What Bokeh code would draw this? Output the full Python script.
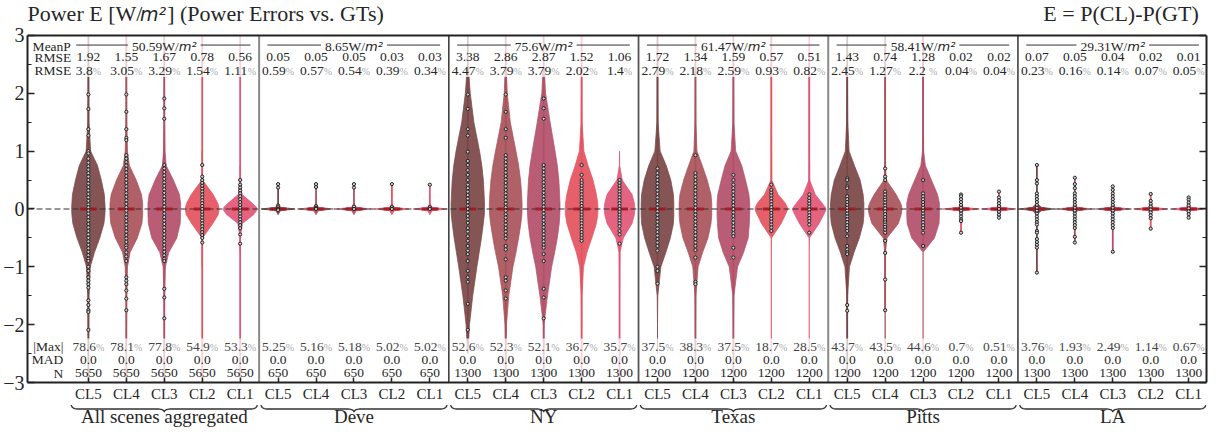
import numpy as np
from bokeh.plotting import figure
from bokeh.layouts import column
from bokeh.models import Range1d, FixedTicker, LinearAxis
from bokeh.core.properties import value
from bokeh.embed import file_html
from bokeh.resources import INLINE

# ---------------- data ----------------
groups = ["All scenes aggregated", "Deve", "NY", "Texas", "Pitts", "LA"]
cl_levels = ["CL5", "CL4", "CL3", "CL2", "CL1"]
mean_power = ["50.59", "8.65", "75.6", "61.47", "58.41", "29.31"]
rmse = ["1.92", "1.55", "1.67", "0.78", "0.56",
        "0.05", "0.05", "0.05", "0.03", "0.03",
        "3.38", "2.86", "2.87", "1.52", "1.06",
        "1.72", "1.34", "1.59", "0.57", "0.51",
        "1.43", "0.74", "1.28", "0.02", "0.02",
        "0.07", "0.05", "0.04", "0.02", "0.01"]
rmse_pct = ["3.8", "3.05", "3.29", "1.54", "1.11",
            "0.59", "0.57", "0.54", "0.39", "0.34",
            "4.47", "3.79", "3.79", "2.02", "1.4",
            "2.79", "2.18", "2.59", "0.93", "0.82",
            "2.45", "1.27", "2.2 ", "0.04", "0.04",
            "0.23", "0.16", "0.14", "0.07", "0.05"]
max_pct = ["78.6", "78.1", "77.8", "54.9", "53.3",
           "5.25", "5.16", "5.18", "5.02", "5.02",
           "52.6", "52.3", "52.1", "36.7", "35.7",
           "37.5", "38.3", "37.5", "18.7", "28.5",
           "43.7", "43.5", "44.6", "0.7", "0.51",
           "3.76", "1.93", "2.49", "1.14", "0.67"]
mad = ["0.0"] * 30
n_per_group = ["5650", "650", "1300", "1200", "1200", "1300"]

# violin half-width profiles (in category widths) at these error levels
profile_levels = [-2.5, -2.0, -1.5, -1.0, -0.75, -0.5, -0.25, -0.1, -0.03, 0.0,
                  0.03, 0.1, 0.25, 0.5, 0.75, 1.0, 1.5, 2.0, 2.5]
flat45 = [0, 0, 0, 0, 0, 0, 0, 0, 0.06, 0.45, 0.06, 0, 0, 0, 0, 0, 0, 0, 0]
profiles = [
    # All scenes aggregated
    [0, 0.01, 0.015, 0.05, 0.16, 0.30, 0.41, 0.435, 0.44, 0.44, 0.44, 0.435, 0.42, 0.34, 0.24, 0.06, 0.015, 0.01, 0.005],
    [0, 0.005, 0.01, 0.03, 0.10, 0.29, 0.41, 0.43, 0.43, 0.43, 0.43, 0.43, 0.40, 0.26, 0.08, 0.03, 0.01, 0.008, 0.005],
    [0, 0.005, 0.01, 0.03, 0.12, 0.33, 0.42, 0.43, 0.43, 0.43, 0.43, 0.43, 0.40, 0.24, 0.05, 0.02, 0.01, 0.008, 0.005],
    [0, 0, 0, 0, 0.005, 0.01, 0.28, 0.42, 0.44, 0.44, 0.44, 0.41, 0.29, 0.01, 0.005, 0, 0, 0, 0],
    [0, 0, 0, 0, 0, 0.005, 0.06, 0.35, 0.43, 0.44, 0.43, 0.32, 0.05, 0.005, 0, 0, 0, 0, 0],
    # Deve
    flat45, flat45, flat45, flat45, flat45,
    # NY
    [0.005, 0.045, 0.13, 0.24, 0.30, 0.36, 0.41, 0.435, 0.44, 0.44, 0.44, 0.44, 0.43, 0.41, 0.37, 0.31, 0.16, 0.065, 0.01],
    [0.003, 0.02, 0.08, 0.19, 0.27, 0.34, 0.40, 0.425, 0.43, 0.43, 0.43, 0.43, 0.42, 0.39, 0.34, 0.27, 0.12, 0.04, 0.008],
    [0, 0.01, 0.10, 0.21, 0.29, 0.36, 0.41, 0.425, 0.43, 0.43, 0.43, 0.43, 0.42, 0.40, 0.36, 0.30, 0.17, 0.05, 0.01],
    [0, 0.005, 0.01, 0.05, 0.14, 0.27, 0.39, 0.425, 0.43, 0.43, 0.43, 0.425, 0.39, 0.30, 0.17, 0.06, 0.012, 0.008, 0.005],
    [0, 0, 0, 0.005, 0.01, 0.10, 0.33, 0.39, 0.40, 0.40, 0.40, 0.39, 0.33, 0.07, 0.005, 0, 0, 0, 0],
    # Texas
    [0, 0, 0.008, 0.09, 0.22, 0.34, 0.42, 0.43, 0.43, 0.43, 0.43, 0.43, 0.42, 0.35, 0.23, 0.07, 0.015, 0.01, 0.008],
    [0.003, 0.005, 0.012, 0.07, 0.19, 0.33, 0.41, 0.43, 0.43, 0.43, 0.43, 0.43, 0.41, 0.31, 0.18, 0.04, 0.012, 0.008, 0.005],
    [0.003, 0.005, 0.015, 0.11, 0.27, 0.39, 0.42, 0.43, 0.43, 0.43, 0.43, 0.43, 0.41, 0.32, 0.22, 0.06, 0.015, 0.01, 0.007],
    [0, 0, 0, 0, 0, 0.005, 0.26, 0.37, 0.42, 0.43, 0.42, 0.37, 0.18, 0.01, 0.008, 0.006, 0.005, 0.005, 0.005],
    [0, 0, 0, 0, 0, 0.005, 0.26, 0.38, 0.43, 0.44, 0.42, 0.34, 0.16, 0.01, 0.008, 0.006, 0.005, 0.005, 0.005],
    # Pitts
    [0.005, 0.006, 0.01, 0.06, 0.18, 0.32, 0.42, 0.44, 0.44, 0.44, 0.44, 0.44, 0.42, 0.34, 0.19, 0.05, 0.015, 0.01, 0.008],
    [0.005, 0.005, 0.005, 0.005, 0.008, 0.05, 0.35, 0.42, 0.44, 0.44, 0.44, 0.41, 0.29, 0.03, 0.008, 0.006, 0.005, 0.005, 0.005],
    [0, 0, 0, 0, 0, 0.30, 0.42, 0.43, 0.43, 0.43, 0.43, 0.43, 0.38, 0.22, 0.06, 0.015, 0.01, 0.008, 0.006],
    [0, 0, 0, 0, 0, 0, 0, 0, 0.06, 0.48, 0.06, 0, 0, 0, 0, 0, 0, 0, 0],
    flat45,
    # LA
    [0, 0, 0, 0, 0, 0, 0, 0, 0.12, 0.46, 0.12, 0, 0, 0, 0, 0, 0, 0, 0],
    flat45, flat45, flat45, flat45,
]

# whisker extents (min, max error); values beyond +-3 run off the chart
whisker_lo = [-3.5, -3.5, -3.5, -3.5, -3.5,
              0.0, 0.0, 0.0, 0.0, 0.0,
              -2.3, -3.5, -3.5, -3.5, -3.5,
              -1.29, -3.5, -3.5, -0.4, -0.42,
              -3.5, -1.77, -0.66, -0.42, -0.15,
              -1.1, -0.58, -0.74, -0.34, -0.15]
whisker_hi = [3.5, 3.5, 3.5, 3.5, 3.5,
              0.43, 0.43, 0.43, 0.43, 0.42,
              3.5, 3.5, 3.5, 3.5, 0.53,
              3.5, 3.5, 3.5, 3.5, 3.5,
              3.5, 3.5, 3.5, 0.25, 0.3,
              0.76, 0.54, 0.39, 0.26, 0.2]

# individual error samples drawn as points
points = [
    # All scenes aggregated
    [1.98, 1.73, 1.38, 1.27, 1.0, 0.96, 0.87, 0.8, 0.74, 0.68, 0.62, 0.56, 0.5, 0.44, 0.38, 0.32, 0.26, 0.2, 0.14,
     0.08, 0.03, -0.03, -0.08, -0.14, -0.2, -0.26, -0.32, -0.38, -0.44, -0.5, -0.56, -0.62, -0.68, -0.74, -0.8,
     -0.86, -0.9, -1.0, -1.07, -1.18, -1.24, -1.3, -1.36, -1.58, -1.66, -1.75, -1.78, -2.09],
    [1.98, 1.68, 1.38, 1.23, 1.19, 0.93, 0.87, 0.81, 0.75, 0.69, 0.63, 0.57, 0.51, 0.45, 0.39, 0.33, 0.27, 0.21,
     0.15, 0.09, 0.03, -0.03, -0.09, -0.15, -0.21, -0.27, -0.33, -0.39, -0.45, -0.51, -0.57, -0.63, -0.67, -0.75,
     -0.82, -0.9, -1.18, -1.24, -1.3, -1.41, -1.55, -1.75],
    [1.91, 1.74, 1.56, 0.76, 0.7, 0.64, 0.58, 0.52, 0.46, 0.4, 0.34, 0.28, 0.22, 0.16, 0.1, 0.04, -0.02, -0.08,
     -0.14, -0.2, -0.26, -0.32, -0.38, -0.44, -0.5, -0.56, -0.62, -0.68, -0.74, -0.8, -0.86, -0.9, -1.38, -1.53,
     -1.89],
    [0.76, 0.56, 0.5, 0.45, 0.4, 0.35, 0.3, 0.25, 0.2, 0.15, 0.1, 0.05, 0.0, -0.05, -0.1, -0.15, -0.2, -0.25, -0.3,
     -0.35, -0.4, -0.45, -0.5, -0.58],
    [0.5, 0.42, 0.37, 0.32, 0.27, 0.22, 0.17, 0.12, 0.07, 0.02, -0.03, -0.08, -0.13, -0.18, -0.23, -0.28, -0.33,
     -0.44, -0.6],
    # Deve
    [0.43, 0.37, 0.06, 0.03, 0.0, -0.02],
    [0.43, 0.38, 0.05, 0.02, 0.0],
    [0.43, 0.37, 0.04, 0.0],
    [0.43, 0.03, 0.0],
    [0.42, 0.03, 0.0],
    # NY
    [1.98, 1.73, 1.38, 1.27, 0.99, 0.83, 0.76, 0.67, 0.59, 0.5, 0.42, 0.36, 0.3, 0.24, 0.18, 0.12, 0.06, 0.0,
     -0.06, -0.12, -0.18, -0.24, -0.33, -0.39, -0.47, -0.55, -0.64, -0.72, -0.78, -0.9, -1.07, -1.18, -1.26,
     -1.64, -2.09],
    [1.98, 1.68, 1.38, 1.23, 0.93, 0.87, 0.81, 0.75, 0.69, 0.63, 0.57, 0.51, 0.45, 0.39, 0.33, 0.27, 0.21, 0.15,
     0.09, 0.03, -0.03, -0.09, -0.15, -0.21, -0.27, -0.33, -0.39, -0.45, -0.51, -0.64, -0.7, -0.87, -1.18, -1.24,
     -1.41, -1.55],
    [1.91, 1.74, 1.56, 0.76, 0.7, 0.64, 0.58, 0.52, 0.46, 0.4, 0.34, 0.28, 0.22, 0.16, 0.1, 0.04, -0.02, -0.08,
     -0.14, -0.2, -0.26, -0.32, -0.38, -0.44, -0.5, -0.56, -0.62, -0.67, -0.78, -0.9, -1.38, -1.53, -1.89],
    [0.76, 0.59, 0.5, 0.45, 0.4, 0.35, 0.3, 0.25, 0.2, 0.15, 0.1, 0.05, 0.0, -0.05, -0.1, -0.15, -0.2, -0.25,
     -0.3, -0.35, -0.4, -0.45, -0.5, -0.55],
    [0.5, 0.45, 0.4, 0.35, 0.3, 0.25, 0.2, 0.15, 0.1, 0.05, 0.0, -0.05, -0.1, -0.15, -0.2, -0.25, -0.3, -0.38,
     -0.44, -0.6],
    # Texas
    [0.7, 0.62, 0.56, 0.5, 0.44, 0.38, 0.32, 0.26, 0.2, 0.14, 0.08, 0.02, -0.04, -0.1, -0.16, -0.22, -0.28, -0.34,
     -0.4, -0.46, -0.52, -0.58, -0.64, -0.72, -1.0, -1.07, -1.29],
    [0.93, 0.62, 0.56, 0.5, 0.44, 0.38, 0.32, 0.26, 0.2, 0.14, 0.08, 0.02, -0.04, -0.1, -0.16, -0.22, -0.28, -0.34,
     -0.4, -0.46, -0.52, -0.58, -0.64, -0.71, -0.84, -1.26, -1.3],
    [0.59, 0.5, 0.42, 0.36, 0.3, 0.24, 0.18, 0.12, 0.06, 0.0, -0.06, -0.12, -0.18, -0.24, -0.3, -0.36, -0.42,
     -0.47, -0.67, -0.84],
    [0.42, 0.33, 0.28, 0.23, 0.18, 0.13, 0.08, 0.03, -0.02, -0.07, -0.12, -0.17, -0.22, -0.27, -0.32, -0.38],
    [0.25, 0.19, 0.14, 0.09, 0.04, -0.01, -0.06, -0.11, -0.16, -0.21, -0.27, -0.41],
    # Pitts
    [0.53, 0.5, 0.39, 0.36, 0.22, 0.17, 0.12, 0.07, 0.02, -0.03, -0.08, -0.13, -0.18, -0.23, -0.28, -0.33, -0.38,
     -0.47, -0.64, -0.7, -0.75, -0.78, -1.66, -1.76],
    [0.7, 0.56, 0.5, 0.3, 0.25, 0.2, 0.16, 0.11, 0.06, 0.01, -0.04, -0.09, -0.14, -0.19, -0.23, -0.27, -0.31,
     -0.36, -0.41, -0.55, -0.76, -1.22, -1.75],
    [0.5, 0.27, 0.22, 0.17, 0.12, 0.07, 0.02, -0.03, -0.08, -0.13, -0.18, -0.23, -0.28, -0.33, -0.41, -0.64],
    [0.25, 0.22, 0.17, 0.12, 0.07, 0.02, -0.03, -0.08, -0.13, -0.18, -0.21, -0.41],
    [0.3, 0.2, 0.15, 0.1, 0.05, 0.0, -0.05, -0.1, -0.15],
    # LA
    [0.76, 0.5, 0.44, 0.27, 0.22, 0.17, 0.12, 0.07, 0.02, -0.03, -0.08, -0.13, -0.18, -0.23, -0.27, -0.38, -0.41,
     -0.52, -0.57, -0.62, -0.67, -1.1],
    [0.54, 0.43, 0.36, 0.27, 0.22, 0.17, 0.12, 0.07, 0.02, -0.03, -0.08, -0.13, -0.18, -0.23, -0.28, -0.33, -0.48,
     -0.58],
    [0.39, 0.33, 0.27, 0.22, 0.17, 0.12, 0.07, 0.02, -0.03, -0.08, -0.13, -0.18, -0.23, -0.28, -0.33, -0.74],
    [0.26, 0.14, 0.09, 0.04, -0.01, -0.06, -0.11, -0.16, -0.34],
    [0.2, 0.16, 0.11, 0.06, 0.01, -0.04, -0.09, -0.15],
]

# ---------------- styling / layout ----------------
CL_COLORS = ["#7b4646", "#a9525a", "#b24f69", "#e4525f", "#e15676"]
SEP_COLORS = ["#8a8a8a", "#333333", "#555555", "#8a8a8a", "#333333"]
SERIF = "Liberation Serif"
TXT = "#262626"
FS = 13.5          # px, table numbers
FS_PCT = 10.0      # px, percent signs
W = 1214
H_TOP, H_MAIN, H_BOT = 25, 379, 23
ML, MR = 25, 8
TOP_PAD = 10.0                     # px above y=3 inside the main frame (room for its tick label)
X0, X1 = -1.605, 29.47
FRAME_W = W - ML - MR
PXX = (X1 - X0) / FRAME_W          # data units per px (x)
PX_UNIT = (H_MAIN - 21 - TOP_PAD) / 6.0
Y_TOP = 3 + TOP_PAD / PX_UNIT
PXY = 1.0 / PX_UNIT
BASE_FIX = 0.3                     # observed downward drift of alphabetic baselines (x font size)

# Times / Liberation Serif advance widths (em)
ADV = {c: 0.5 for c in "0123456789"}
ADV.update({".": 0.25, " ": 0.25, "%": 0.833, "W": 0.944, "/": 0.278, "P": 0.556, "o": 0.5,
            "w": 0.722, "e": 0.444, "r": 0.333, "E": 0.611, "[": 0.333})


def tw(s, fs):
    return sum(ADV.get(c, 0.5) for c in s) * fs


def base_y(y, fs):
    """data y for a wanted baseline y in the main plot"""
    return y + BASE_FIX * fs * PXY


N = len(rmse)
xs_idx = list(range(N))
xr = Range1d(X0, X1)
tfont = value(SERIF)
tsize = value("%.1fpx" % FS)

# ---------------- title strip ----------------
p0 = figure(width=W, height=H_TOP, x_range=Range1d(0, W), y_range=Range1d(0, H_TOP),
            x_axis_type=None, y_axis_type=None, output_backend="svg", toolbar_location=None,
            min_border_left=0, min_border_right=0, min_border_top=0, min_border_bottom=0)
p0.grid.visible = False
p0.outline_line_color = None
t1 = "Power E [W/"
w1 = tw(t1, 22)
yb = H_TOP - 19.8 + BASE_FIX * 22
p0.text(x=[0], y=[yb], text=[t1], text_font=tfont, text_font_size=value("22px"), text_color=TXT,
        text_align="left", text_baseline="alphabetic")
p0.text(x=[w1 + 1], y=[yb], text=["m\u00b2"], text_font=value("DejaVu Sans"), text_font_style="italic",
        text_font_size=value("19px"), text_color=TXT, text_align="left", text_baseline="alphabetic")
p0.text(x=[w1 + 29], y=[yb], text=["] (Power Errors vs. GTs)"], text_font=tfont,
        text_font_size=value("22px"), text_color=TXT, text_align="left", text_baseline="alphabetic")
p0.text(x=[W - MR], y=[yb], text=["E = P(CL)-P(GT)"], text_font=tfont, text_font_size=value("22px"),
        text_color=TXT, text_align="right", text_baseline="alphabetic")

# ---------------- main plot ----------------
p = figure(width=W, height=H_MAIN, x_range=xr, y_range=Range1d(-3, Y_TOP),
           output_backend="svg", toolbar_location=None,
           min_border_top=0, min_border_bottom=21, min_border_left=ML, min_border_right=MR)
p.grid.visible = False
p.outline_line_color = None
p.background_fill_color = "white"
p.border_fill_color = "white"

yticks = [-3, -2, -1, 0, 1, 2, 3]
yminor = [-2.5, -1.5, -0.5, 0.5, 1.5, 2.5]
ya = p.yaxis[0]
ya.ticker = FixedTicker(ticks=yticks, minor_ticks=yminor)
ya.bounds = (-3, 3)
ya.major_label_overrides = {-3: "\u22123", -2: "\u22122", -1: "\u22121", 0: "0", 1: "1", 2: "2", 3: "3"}
ya.major_label_text_font = SERIF
ya.major_label_text_font_size = "20px"
ya.major_label_text_color = TXT
ya.major_label_standoff = 3
ya.major_tick_in = 7
ya.major_tick_out = 0
ya.minor_tick_in = 4
ya.minor_tick_out = 0
ya.axis_line_width = 2
ya.axis_line_color = "#222222"
ya.major_tick_line_color = "#222222"
ya.major_tick_line_width = 1.5
ya.minor_tick_line_color = "#222222"
ya.minor_tick_line_width = 1.2

ra = LinearAxis(ticker=FixedTicker(ticks=yticks, minor_ticks=yminor), bounds=(-3, 3),
                major_label_overrides={t: "" for t in yticks}, major_label_standoff=0,
                major_tick_in=7, major_tick_out=0, minor_tick_in=4, minor_tick_out=0,
                axis_line_width=2, axis_line_color="#222222",
                major_tick_line_color="#222222", major_tick_line_width=1.5,
                minor_tick_line_color="#222222", minor_tick_line_width=1.2)
p.add_layout(ra, "right")

xa = p.xaxis[0]
xa.ticker = FixedTicker(ticks=xs_idx)
xa.major_label_overrides = {i: cl_levels[i % 5] for i in xs_idx}
xa.major_label_text_font = SERIF
xa.major_label_text_font_size = "15px"
xa.major_label_text_color = TXT
xa.major_label_standoff = 3
xa.major_tick_in = 5
xa.major_tick_out = 0
xa.minor_tick_line_color = None
xa.axis_line_width = 2
xa.axis_line_color = "#222222"
xa.major_tick_line_color = "#222222"
xa.major_tick_line_width = 1.5

colors = [CL_COLORS[i % 5] for i in xs_idx]

# whiskers (drawn up to the frame's top border at 3)
p.segment(x0=xs_idx, y0=whisker_lo, x1=xs_idx, y1=list(np.minimum(whisker_hi, 3.0)),
          line_color=colors, line_width=1.8)

# violins
vx, vy = [], []
lv = np.array(profile_levels)
for i in xs_idx:
    hw = np.array(profiles[i])
    keep = hw > 0
    keep = keep | np.roll(keep, 1) | np.roll(keep, -1)
    yy = lv[keep]
    ww = hw[keep]
    vx.append(list(i + ww) + list((i - ww)[::-1]))
    vy.append(list(yy) + list(yy[::-1]))
p.patches(vx, vy, fill_color=colors, fill_alpha=0.92, line_color=colors, line_width=0.8, line_alpha=0.9)

# zero line
p.segment(x0=[X0], y0=[0], x1=[X1], y1=[0], line_color="#333333", line_width=1.2, line_dash="6 3")

# median marks
p.segment(x0=[i - 0.22 for i in xs_idx], y0=[0] * N, x1=[i + 0.22 for i in xs_idx], y1=[0] * N,
          line_color="#a8141c", line_width=3, line_alpha=0.85)

# sample points
px_, py_ = [], []
for i in xs_idx:
    px_ += [i] * len(points[i])
    py_ += points[i]
p.scatter(px_, py_, marker="circle", size=3.2, fill_color="#cfcfcf", line_color="#222222", line_width=1.0)

# translucent header/footer bands
p.quad(left=[X0 - 0.2, X0 - 0.2], right=[X1 + 0.2, X1 + 0.2], bottom=[2.28, -3.2], top=[3.0, -2.24],
       fill_color="white", fill_alpha=0.72, line_alpha=0)

# group separators and top border
seps = [5 * g + 4.5 for g in range(5)]
p.segment(x0=seps, y0=[-3.2] * 5, x1=seps, y1=[3.0] * 5, line_color=SEP_COLORS,
          line_width=[2, 1.5, 1.8, 2, 1.5])
p.segment(x0=[X0], y0=[3.0], x1=[X1], y1=[3.0], line_color="#222222", line_width=2)

# ---------------- table texts ----------------
Y_MEANP, Y_RMSE, Y_RMSEP = 2.748, 2.55, 2.321
Y_MAX, Y_MAD, Y_N = -2.448, -2.68, -2.909

p.text(x=[-1.47], y=[base_y(Y_MEANP, FS)], text=["MeanP"], text_font=tfont, text_font_size=tsize,
       text_color=TXT, text_align="left", text_baseline="alphabetic")
p.text(x=[-1.42, -1.42], y=[base_y(Y_RMSE, FS), base_y(Y_RMSEP, FS)], text=["RMSE", "RMSE"],
       text_font=tfont, text_font_size=tsize, text_color=TXT, text_align="left", text_baseline="alphabetic")
p.text(x=[-0.66] * 3, y=[base_y(Y_MAX, FS), base_y(Y_MAD, FS), base_y(Y_N, FS)], text=["|Max|", "MAD", "N"],
       text_font=tfont, text_font_size=tsize, text_color=TXT, text_align="right", text_baseline="alphabetic")

# MeanP header per group with rule lines
M_FS = 13.0
m_w = 1.376 * M_FS
hx, hoffA, hoffM, htxt = [], [], [], []
lx0, lx1 = [], []
for g in range(6):
    a = mean_power[g] + "W/"
    wa = tw(a, FS)
    tot = wa + m_w
    c = 5 * g + 2
    hx.append(c)
    htxt.append(a)
    hoffA.append(-tot / 2)
    hoffM.append(-tot / 2 + wa)
    left0 = 5 * g - (0.32 if g == 0 else 0.28)
    lx0 += [left0, c + (tot / 2 + 4) * PXX]
    lx1 += [c - (tot / 2 + 4) * PXX, 5 * g + 4.27]
y_rule = Y_MEANP + 5 * PXY
p.segment(x0=lx0, y0=[y_rule] * 12, x1=lx1, y1=[y_rule] * 12, line_color="#333333", line_width=1)
p.text(x=hx, y=[base_y(Y_MEANP, FS)] * 6, text=htxt, x_offset=hoffA, text_font=tfont, text_font_size=tsize,
       text_color=TXT, text_align="left", text_baseline="alphabetic")
p.text(x=hx, y=[base_y(Y_MEANP, M_FS)] * 6, text=["m\u00b2"] * 6, x_offset=hoffM,
       text_font=value("DejaVu Sans"), text_font_style="italic", text_font_size=value("%.1fpx" % M_FS),
       text_color=TXT, text_align="left", text_baseline="alphabetic")

# plain number rows
p.text(x=xs_idx, y=[base_y(Y_RMSE, FS)] * N, text=rmse, text_font=tfont, text_font_size=tsize,
       text_color=TXT, text_align="center", text_baseline="alphabetic")
p.text(x=xs_idx, y=[base_y(Y_MAD, FS)] * N, text=mad, text_font=tfont, text_font_size=tsize,
       text_color=TXT, text_align="center", text_baseline="alphabetic")
p.text(x=xs_idx, y=[base_y(Y_N, FS)] * N, text=[n_per_group[i // 5] for i in xs_idx], text_font=tfont,
       text_font_size=tsize, text_color=TXT, text_align="center", text_baseline="alphabetic")


def pct_row(vals, yrow, num_color):
    offn, offp = [], []
    for s in vals:
        wn = tw(s, FS)
        wp = tw("%", FS_PCT)
        tot = wn + wp
        offn.append(-tot / 2)
        offp.append(-tot / 2 + wn)
    p.text(x=xs_idx, y=[base_y(yrow, FS)] * N, text=vals, x_offset=offn, text_font=tfont,
           text_font_size=tsize, text_color=num_color, text_align="left", text_baseline="alphabetic")
    p.text(x=xs_idx, y=[base_y(yrow, FS_PCT)] * N, text=["%"] * N, x_offset=offp, text_font=tfont,
           text_font_size=value("%.1fpx" % FS_PCT), text_color="#aaaaaa", text_align="left",
           text_baseline="alphabetic")


pct_row(rmse_pct, Y_RMSEP, TXT)
pct_row(max_pct, Y_MAX, "#444444")

# ---------------- braces and group names ----------------
p2 = figure(width=W, height=H_BOT, x_range=xr, y_range=Range1d(0, H_BOT),
            x_axis_type=None, y_axis_type=None, output_backend="svg", toolbar_location=None,
            min_border_left=ML, min_border_right=MR, min_border_top=0, min_border_bottom=0)
p2.grid.visible = False
p2.outline_line_color = None


def brace(xa_, xb_):
    r = 6 * PXX
    xc = 0.5 * (xa_ + xb_)
    top, mid, tip = 0.5, 4.5, 7.5      # px below the strip's top
    t = np.linspace(0, np.pi / 2, 8)
    x1 = xa_ + r - r * np.cos(t)
    y1 = top + (mid - top) * np.sin(t)
    x2 = xc - r + r * np.sin(t)
    y2 = tip - (tip - mid) * np.cos(t)
    lx = np.concatenate([x1, x2])
    ly = np.concatenate([y1, y2])
    bx = np.concatenate([lx, (2 * xc - lx)[::-1]])
    by = np.concatenate([ly, ly[::-1]])
    return list(bx), list(H_BOT - by)


bxs, bys = [], []
for g in range(6):
    bx, by = brace(5 * g - 0.45, 5 * g + 4.45)
    bxs.append(bx)
    bys.append(by)
p2.multi_line(bxs, bys, line_color="#333333", line_width=1.3)
p2.text(x=[5 * g + 2 for g in range(6)], y=[H_BOT - 18.0 + BASE_FIX * 19] * 6, text=groups, text_font=tfont,
        text_font_size=value("19px"), text_color=TXT, text_align="center", text_baseline="alphabetic")

layout = column(p0, p, p2, spacing=0)
open("out.html", "w").write(file_html(layout, INLINE))
